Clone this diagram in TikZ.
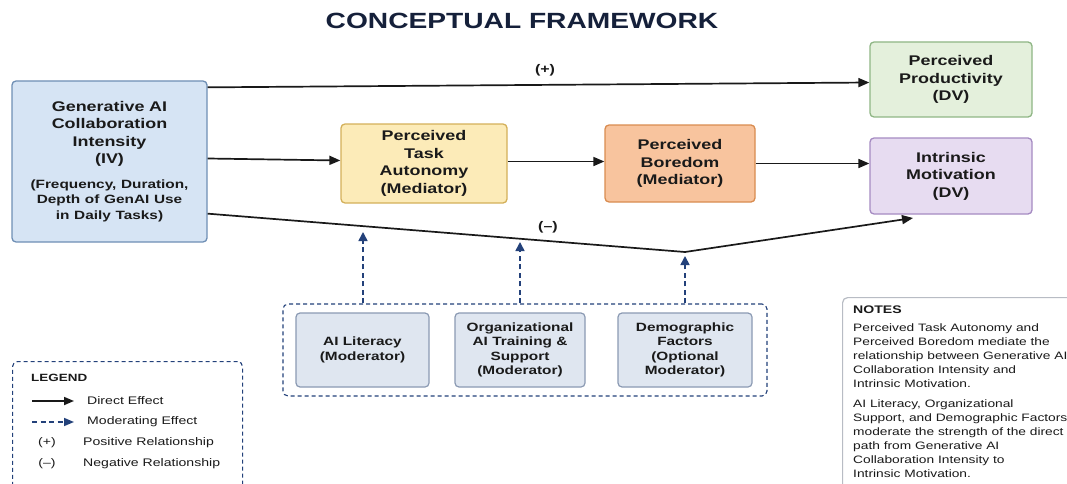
\documentclass[tikz,border=0pt]{standalone}
\usepackage{fontspec}
\setmainfont[FakeStretch=1.28]{Liberation Sans}
\usetikzlibrary{arrows.meta,calc}
\definecolor{navy}{HTML}{23417A}
\definecolor{titlecol}{HTML}{15203A}
\definecolor{txt}{HTML}{1A1A1A}
\definecolor{ivfill}{HTML}{D6E4F4}
\definecolor{ivline}{HTML}{6F8FB5}
\definecolor{tafill}{HTML}{FCEBB8}
\definecolor{taline}{HTML}{D4B05A}
\definecolor{bofill}{HTML}{F8C49E}
\definecolor{boline}{HTML}{D98C50}
\definecolor{prfill}{HTML}{E4F0DC}
\definecolor{prline}{HTML}{8FB685}
\definecolor{imfill}{HTML}{E7DCF1}
\definecolor{imline}{HTML}{A58BC2}
\definecolor{modfill}{HTML}{DFE6F0}
\definecolor{modline}{HTML}{8B9AB3}
\definecolor{noteline}{HTML}{B8BCC4}
\begin{document}
\begin{tikzpicture}[x=1pt,y=-1pt,
  box/.style={draw, rounded corners=4pt, line width=1.3pt, align=center, text=txt,
    font=\fontsize{14}{17.5}\selectfont\bfseries, inner sep=0pt},
  modbox/.style={draw=modline, fill=modfill, rounded corners=4pt, line width=1.2pt,
    align=center, text=txt, font=\fontsize{12}{14.5}\selectfont\bfseries,
    minimum height=74pt, inner sep=0pt},
  direct/.style={-{Triangle[length=11pt,width=9pt]}, line width=1.7pt, draw=black!90},
  moder/.style={-{Triangle[length=9pt,width=9pt]}, draw=navy, line width=1.6pt,
    dash pattern=on 5pt off 3.5pt},
  dashbox/.style={draw=navy, rounded corners=5pt, line width=1.1pt,
    dash pattern=on 4pt off 3pt, inner sep=0pt},
  lbl/.style={font=\fontsize{12.5}{14}\selectfont\bfseries, text=txt},
  legtxt/.style={font=\fontsize{11}{13}\selectfont, text=txt, anchor=west, inner sep=0pt},
]
\clip (0,0) rectangle (1067,484);
\fill[white] (0,0) rectangle (1067,484);

% title
\node[text=titlecol, font=\fontsize{22}{26}\selectfont\bfseries] (title) at (522,21) {CONCEPTUAL FRAMEWORK};

% main boxes
\node[box, fill=ivfill, draw=ivline, minimum width=195pt, minimum height=161pt,
  text width=195pt] (iv) at (109.5,161.5)
  {Generative AI\\ Collaboration\\ Intensity\\ (IV)\par\vspace{9pt}%
   \fontsize{12}{15.5}\selectfont (Frequency, Duration,\\ Depth of GenAI Use\\ in Daily Tasks)\par};
\node[box, fill=tafill, draw=taline, minimum width=166pt, minimum height=79pt] (ta) at (424,163.5)
  {Perceived\\ Task\\ Autonomy\\ (Mediator)};
\node[box, fill=bofill, draw=boline, minimum width=150pt, minimum height=77pt] (bo) at (680,163.5)
  {Perceived\\ Boredom\\ (Mediator)};
\node[box, fill=prfill, draw=prline, minimum width=162pt, minimum height=75pt] (pr) at (951,79.5)
  {Perceived\\ Productivity\\ (DV)};
\node[box, fill=imfill, draw=imline, minimum width=162pt, minimum height=76pt] (im) at (951,176)
  {Intrinsic\\ Motivation\\ (DV)};

% moderators
\node[dashbox, minimum width=484pt, minimum height=92pt] (grp) at (525,350) {};
\node[modbox, minimum width=133pt] (ail) at (362.5,350) {AI Literacy\\ (Moderator)};
\node[modbox, minimum width=130pt] (org) at (520,350) {Organizational\\ AI Training \&\\ Support\\ (Moderator)};
\node[modbox, minimum width=134pt] (dem) at (685,350) {Demographic\\ Factors\\ (Optional\\ Moderator)};

% direct effects
\draw[direct] ([yshift=-7pt]iv.north east) -- ([yshift=-3pt]pr.west);
\draw[direct] ([yshift=3pt]iv.east) -- ([yshift=3pt]ta.west);
\draw[direct] ([yshift=2pt]ta.east) -- ([yshift=2pt]bo.west);
\draw[direct] (bo.east) -- (bo.east -| im.west);
\coordinate (v) at (685,252);
\coordinate (nt) at (913,218);
\draw[direct] ([yshift=29pt]iv.south east) -- (v) -- (nt);
\node[lbl] (plus) at (545,70) {(+)};
\node[lbl] (minus) at (548,227) {(–)};

% moderating effects
\coordinate (t1) at (363,232);
\coordinate (t2) at (520,242);
\coordinate (t3) at (685,256);
\draw[moder] (t1 |- grp.north) -- (t1);
\draw[moder] (t2 |- grp.north) -- (t2);
\draw[moder] (t3 |- grp.north) -- (t3);

% legend
\node[dashbox, minimum width=230pt, minimum height=135pt, anchor=north west] (legend) at (12,361) {};
\node[anchor=west, inner sep=0pt, text=txt, font=\fontsize{10.5}{12}\selectfont\bfseries] (legtitle) at (31,378) {LEGEND};
\coordinate (la1) at (32,401); \coordinate (lb1) at (74,401);
\draw[direct, -{Triangle[length=10pt,width=8pt]}] (la1) -- (lb1);
\node[legtxt] (lt1) at (87,401) {Direct Effect};
\coordinate (la2) at (32,422); \coordinate (lb2) at (74,422);
\draw[moder, -{Triangle[length=10pt,width=8pt]}] (la2) -- (lb2);
\node[legtxt] (lt2) at (87,422) {Moderating Effect};
\node[text=txt, font=\fontsize{11}{13}\selectfont] (lp) at (47,443) {(+)};
\node[legtxt] (lt3) at (83,443) {Positive Relationship};
\node[text=txt, font=\fontsize{11}{13}\selectfont] (lm) at (47,464) {(–)};
\node[legtxt] (lt4) at (83,464) {Negative Relationship};

% notes
\node[draw=noteline, line width=1.2pt, rounded corners=5pt, fill=white,
  minimum width=240pt, minimum height=200pt, anchor=north west] (notesbox) at (842,297) {};
\node[anchor=north west, inner sep=0pt, align=left, text=txt,
  font=\fontsize{10.75}{14}\selectfont] (notes) at (853,306)
  {{\fontsize{11}{14}\selectfont\bfseries NOTES}\\[4pt]
   Perceived Task Autonomy and\\
   Perceived Boredom mediate the\\
   relationship between Generative AI\\
   Collaboration Intensity and\\
   Intrinsic Motivation.\\[6pt]
   AI Literacy, Organizational\\
   Support, and Demographic Factors\\
   moderate the strength of the direct\\
   path from Generative AI\\
   Collaboration Intensity to\\
   Intrinsic Motivation.};
\end{tikzpicture}
\end{document}
